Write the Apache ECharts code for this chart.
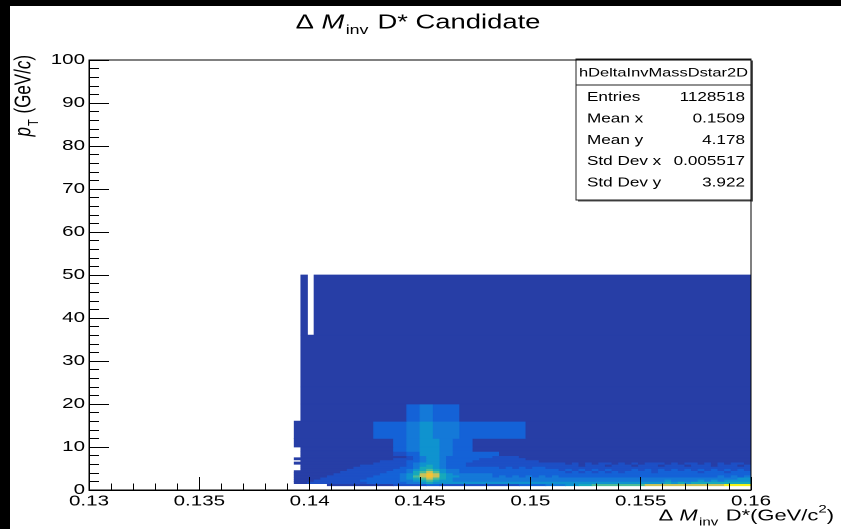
<!DOCTYPE html>
<html>
<head>
<meta charset="utf-8">
<script src="https://cdn.jsdelivr.net/npm/echarts@6/dist/echarts.min.js"></script>
<style>
  html, body { margin: 0; padding: 0; width: 841px; height: 529px; overflow: hidden; background: #000; }
  #paper { position: absolute; left: 10px; top: 6px; right: 0; bottom: 0; background: #fff; }
  #chart { position: absolute; left: 0; top: 0; width: 841px; height: 529px; }
</style>
</head>
<body>
<div id="paper"></div>
<div id="chart"></div>
<script>
// ---- histogram hDeltaInvMassDstar2D ----
// Δm axis: 100 uniform bins from 0.13 to 0.16 GeV/c²
const dmMin = 0.13;
const dmMax = 0.16;
const dmBinWidth = 0.0003;
const firstBin = 31;                 // first bin with any entries
// pT bin edges (GeV/c)
const ptEdges = [1, 1.5, 2, 2.5, 3, 3.5, 4, 4.5, 5, 5.5, 6, 6.5, 7, 7.5, 8, 9, 10, 12, 16, 20, 24, 36, 50];
// colour level of every Δm bin (from bin 31 up to bin 99), one string per pT bin,
// '0' = empty, '1'..'9','a' = increasing content (log scale)
const zLevels = [
  '0000011111 1111122222 3322222222 2222333344 4556677777 7778888888 88888aaaa', // 1-1.5
  '1122222222 2333333445 6555555555 5555555555 5555555555 5555556565 666666666', // 1.5-2
  '1112222222 3333334456 7655444444 4444444444 4444444444 4444445444 454545555', // 2-2.5
  '1111222222 2333334567 8765444444 4444444444 4444444444 4444444444 444444455', // 2.5-3
  '1111122222 2233334578 9865544444 3434343434 3333333333 3333333333 333343434', // 3-3.5
  '1111112222 2223334568 9865444444 3333333333 3333333333 3333333333 333333333', // 3.5-4
  '1111111222 2222333467 8754433333 3333333333 3232323232 3333233333 323332333', // 4-4.5
  '0111111122 2222233456 7654433333 3333333333 2323232322 2323232323 232323232', // 4.5-5
  '0111111112 2222223346 6543333333 3232323322 2222222222 2222222222 222222222', // 5-5.5
  '0111111111 2222222345 6543332222 2222222222 2221222122 2122212221 222122212', // 5.5-6
  '1111111111 1122222345 5543332222 2222222222 2121212212 1212221212 212121221', // 6-6.5
  '0111111111 1112222334 5543333222 2222222111 1111111111 1111111111 111111111', // 6.5-7
  '1111111111 1111122234 5543333322 2222211111 1111111111 1111111111 111111111', // 7-7.5
  '0111111111 1111111234 5543333333 2222111111 1111111111 1111111111 111111111', // 7.5-8
  '0111111111 1111122335 5544333333 3111111111 1111111111 1111111111 111111111', // 8-9
  '0111111111 1111133445 5544333111 1111111111 1111111111 1111111111 111111111', // 9-10
  '1111111111 1111133445 5544333111 1111111111 1111111111 1111111111 111111111', // 10-12
  '1111111111 1133333445 5444433333 3333311111 1111111111 1111111111 111111111', // 12-16
  '0111111111 1111111334 4333311111 1111111111 1111111111 1111111111 111111111', // 16-20
  '0111111111 1111111111 1111111111 1111111111 1111111111 1111111111 111111111', // 20-24
  '0111111111 1111111111 1111111111 1111111111 1111111111 1111111111 111111111', // 24-36
  '0101111111 1111111111 1111111111 1111111111 1111111111 1111111111 111111111'  // 36-50
];

// axis tick labels
const xTickLabels = ['0.13', '0.135', '0.14', '0.145', '0.15', '0.155', '0.16'];
const yTickLabels = ['0', '10', '20', '30', '40', '50', '60', '70', '80', '90', '100'];

// statistics box
const statsName = 'hDeltaInvMassDstar2D';
const statsLabels = ['Entries', 'Mean x', 'Mean y', 'Std Dev x', 'Std Dev y'];
const statsValues = ['1128518', '0.1509', '4.178', '0.005517', '3.922'];

// ---- styling ----
const levelColors = [null, '#273ea6', '#1d4fc5', '#1462d7', '#1479d8', '#0f93cf',
                     '#17a9bb', '#4dbb97', '#c7c25a', '#f7c232', '#f2f218'];
const FONT = 'Liberation Sans, Arial, Helvetica, sans-serif';
const WIDE = 1.37;                    // horizontal stretch of all lettering

// one cell per run of neighbouring bins sharing a colour level
const cells = [];
zLevels.forEach((row, r) => {
  const s = row.replace(/ /g, '');
  let i = 0;
  while (i < s.length) {
    const lvl = parseInt(s[i], 16);
    let j = i + 1;
    while (j < s.length && s[j] === s[i]) j++;
    if (lvl) {
      cells.push([dmMin + (firstBin + i) * dmBinWidth, dmMin + (firstBin + j) * dmBinWidth,
                  ptEdges[r], ptEdges[r + 1], lvl]);
    }
    i = j;
  }
});

const chart = echarts.init(document.getElementById('chart'), null, { renderer: 'canvas', devicePixelRatio: 2 });

const tickStyle = { color: '#000', width: 1 };
chart.setOption({
  animation: false,
  backgroundColor: 'transparent',
  grid: { left: 89, right: 90, top: 60, bottom: 39, show: true,
          borderColor: '#000', borderWidth: 1, backgroundColor: 'transparent', z: 10 },
  xAxis: {
    type: 'value', min: dmMin, max: dmMax, interval: 0.005, z: 10,
    axisLine: { show: true, onZero: false, lineStyle: tickStyle },
    axisTick: { show: true, inside: true, length: 13, lineStyle: tickStyle },
    minorTick: { show: true, splitNumber: 5, length: 6.5, lineStyle: tickStyle },
    splitLine: { show: false },
    axisLabel: { show: false }
  },
  yAxis: {
    type: 'value', min: 0, max: 100, interval: 10, z: 10,
    axisLine: { show: true, onZero: false, lineStyle: tickStyle },
    axisTick: { show: true, inside: true, length: 20, lineStyle: tickStyle },
    minorTick: { show: true, splitNumber: 5, length: 10, lineStyle: tickStyle },
    splitLine: { show: false },
    axisLabel: { show: false }
  },
  series: [{
    type: 'custom',
    data: cells,
    silent: true,
    encode: { x: [0, 1], y: [2, 3] },
    renderItem: (params, api) => {
      const a = api.coord([api.value(0), api.value(3)]);
      const b = api.coord([api.value(1), api.value(2)]);
      const c = levelColors[api.value(4)];
      return { type: 'rect',
               shape: { x: a[0], y: a[1], width: b[0] - a[0], height: b[1] - a[1] },
               style: { fill: c, stroke: c, lineWidth: 0.8 } };
    }
  }]
});

// tick labels, placed with the axes' own scales and drawn widened
const axisY0 = chart.convertToPixel({ yAxisIndex: 0 }, 0);
const axisX0 = chart.convertToPixel({ xAxisIndex: 0 }, dmMin);
const labelStyle = { fontSize: 15, fontFamily: FONT, fill: '#000' };
const tickLabels = [
  ...xTickLabels.map(t => ({ type: 'text', x: chart.convertToPixel({ xAxisIndex: 0 }, parseFloat(t)), y: axisY0 + 4,
      scaleX: WIDE, z: 20, style: Object.assign({ text: t, align: 'center', verticalAlign: 'top' }, labelStyle) })),
  ...yTickLabels.map(t => ({ type: 'text', x: axisX0 - 4, y: chart.convertToPixel({ yAxisIndex: 0 }, parseFloat(t)),
      scaleX: WIDE, z: 20, style: Object.assign({ text: t, align: 'right', verticalAlign: 'middle' }, labelStyle) }))
];

const richTitle = size => ({
  n: { fontSize: size, fontFamily: FONT, fill: '#000', verticalAlign: 'bottom', padding: [0, 0, 4, 0] },
  i: { fontSize: size, fontFamily: FONT, fontStyle: 'italic', fill: '#000', verticalAlign: 'bottom', padding: [0, 0, 4, 0] },
  s: { fontSize: Math.round(size * 0.66), fontFamily: FONT, fill: '#000', verticalAlign: 'bottom', padding: [0, 1, 0, 1] },
  p: { fontSize: Math.round(size * 0.7), fontFamily: FONT, fill: '#000', verticalAlign: 'bottom', padding: [0, 0, 13, 0] }
});

chart.setOption({
  graphic: [
    ...tickLabels,
    // title
    { type: 'text', x: 418, y: 25, z: 20, scaleX: WIDE,
      style: { text: '{n|Δ }{i|M}{s|inv}{n| D* Candidate}', align: 'center', verticalAlign: 'middle', rich: richTitle(20) } },
    // y axis title (rotated: the widening runs along the glyph height)
    { type: 'text', x: 27, y: 55, rotation: Math.PI / 2, scaleY: WIDE, z: 20,
      style: { text: '{i|p}{s|T}{n| (GeV/}{i|c}{n|)}', align: 'right', verticalAlign: 'middle', rich: richTitle(17) } },
    // x axis title
    { type: 'text', x: 834, y: 516, z: 20, scaleX: WIDE,
      style: { text: '{n|Δ }{i|M}{s|inv}{n| D*(GeV/c}{p|2}{n|)}', align: 'right', verticalAlign: 'middle', rich: richTitle(16) } },
    // statistics box
    { type: 'group', z: 30, children: [
      { type: 'rect', shape: { x: 578, y: 60.5, width: 175, height: 141 }, style: { fill: '#555' } },
      { type: 'rect', shape: { x: 576, y: 59, width: 175, height: 141 },
        style: { fill: '#fff', stroke: '#222', lineWidth: 1 } },
      { type: 'line', shape: { x1: 576, y1: 85, x2: 751, y2: 85 }, style: { stroke: '#222', lineWidth: 1 } },
      { type: 'text', x: 663.5, y: 73, scaleX: WIDE,
        style: { text: statsName, align: 'center', verticalAlign: 'middle', fontSize: 12, fontFamily: FONT, fill: '#000' } },
      ...statsLabels.map((t, i) => ({ type: 'text', x: 587, y: 97.5 + i * 21.4, scaleX: WIDE,
        style: { text: t, align: 'left', verticalAlign: 'middle', fontSize: 12.5, fontFamily: FONT, fill: '#000' } })),
      ...statsValues.map((t, i) => ({ type: 'text', x: 745, y: 97.5 + i * 21.4, scaleX: WIDE,
        style: { text: t, align: 'right', verticalAlign: 'middle', fontSize: 12.5, fontFamily: FONT, fill: '#000' } }))
    ] }
  ]
});
</script>
</body>
</html>
